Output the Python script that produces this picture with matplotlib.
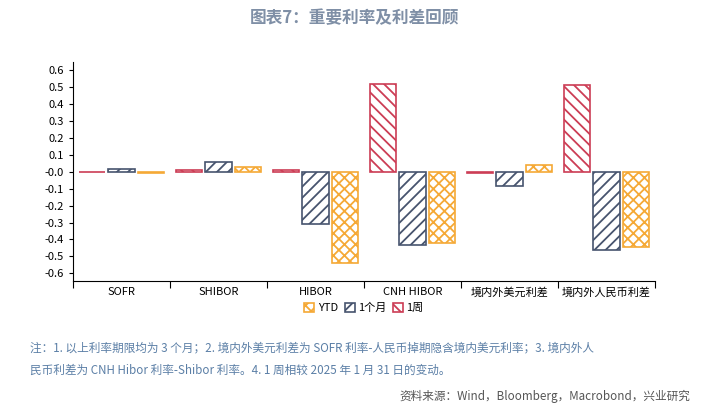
import matplotlib.pyplot as plt
import numpy as np

plt.rcParams['font.family'] = ['Noto Sans CJK SC', 'DejaVu Sans']
plt.rcParams['hatch.linewidth'] = 1.3

categories = ["SOFR", "SHIBOR", "HIBOR", "CNH HIBOR", "境内外美元利差", "境内外人民币利差"]
week1 = [-0.002, 0.008, 0.012, 0.52, -0.01, 0.51]
month1 = [0.015, 0.055, -0.31, -0.43, -0.085, -0.465]
ytd = [-0.005, 0.025, -0.54, -0.42, 0.04, -0.445]

fig = plt.figure(figsize=(7.09, 4.12), dpi=100)
ax = fig.add_axes([73/709, 1-281/412, (655-73)/709, (281-62)/412])

x = np.arange(len(categories))
w = 0.27
series = [(week1, "#cc3d55", "\\\\\\", "1周", -0.3), (month1, "#47546e", "///", "1个月", 0),
          (ytd, "#f5a936", "xxx", "YTD", 0.3)]
for vals, col, hatch, lab, off in series:
    ax.bar(x + off, vals, w, facecolor='white',
           edgecolor=col, hatch=hatch, linewidth=1.2, label=lab)

ax.set_xlim(-0.5, len(categories) - 0.5)
ax.set_ylim(-0.645, 0.647)
ticks = np.round(np.arange(-0.6, 0.61, 0.1), 1)
ax.set_yticks(ticks)
ax.set_yticklabels([f"{v:.1f}" for v in ticks], fontsize=8)
ax.set_xticks(np.arange(-0.5, len(categories), 1))
ax.set_xticklabels([])
ax.tick_params(axis='x', length=5)
ax.tick_params(axis='y', length=3)
for i, c in enumerate(categories):
    ax.text(i, -0.68, c, ha='center', va='top', fontsize=8)
for s in ['top', 'right']:
    ax.spines[s].set_visible(False)

h, l = ax.get_legend_handles_labels()
fig.legend(h[::-1], l[::-1], loc='center', bbox_to_anchor=(364/709, 1-308/412), ncol=3,
           frameon=False, fontsize=8, handlelength=0.9, handleheight=0.9,
           columnspacing=0.6, handletextpad=0.3)

fig.text(0.5, 1-18/412, "图表7：重要利率及利差回顾", ha='center', va='center',
         fontsize=12, fontweight='bold', color='#7f8fa6')
fig.text(30/709, 1-348/412, "注：1. 以上利率期限均为 3 个月；2. 境内外美元利差为 SOFR 利率-人民币掉期隐含境内美元利率；3. 境内外人",
         fontsize=8.4, color='#5b7fa6', va='center')
fig.text(30/709, 1-370/412, "民币利差为 CNH Hibor 利率-Shibor 利率。4. 1 周相较 2025 年 1 月 31 日的变动。",
         fontsize=8.4, color='#5b7fa6', va='center')
fig.text(690/709, 1-396/412, "资料来源：Wind，Bloomberg，Macrobond，兴业研究",
         fontsize=8.4, color='#555555', va='center', ha='right')

fig.savefig("out.png", dpi=100)
